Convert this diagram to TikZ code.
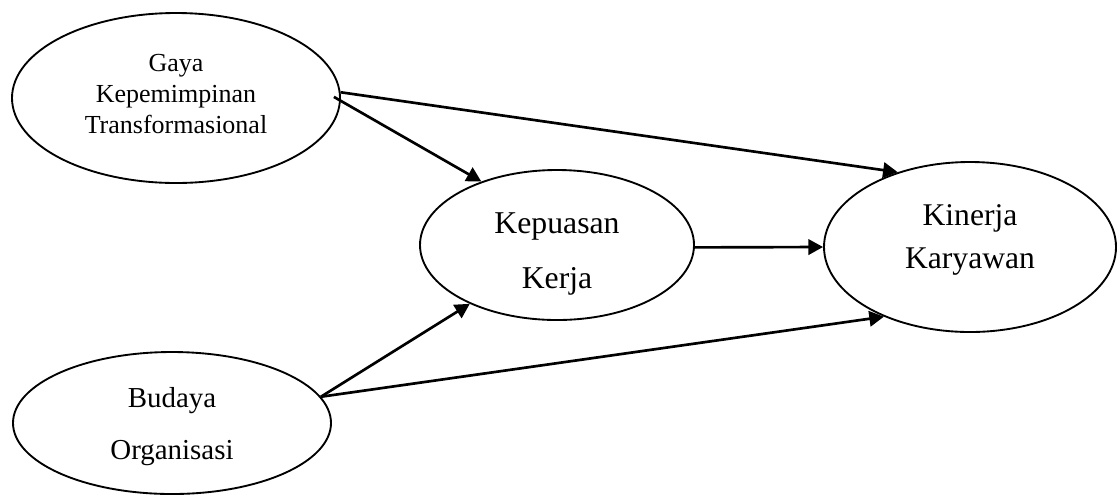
\documentclass[tikz,border=0pt]{standalone}
\usepackage{fontspec}
\setmainfont{Liberation Serif}
\usetikzlibrary{shapes.geometric,arrows.meta}
\tikzset{
	var/.style={draw, ellipse, line width=1.4pt, inner sep=0pt},
	patharr/.style={line width=2pt, -{Triangle[length=11pt,width=11.5pt]}},
}

\begin{document}
\begin{tikzpicture}[x=0.75pt,y=-0.75pt]
			%%%%% START %%%%%
			\useasboundingbox (0,0) rectangle (1119,494);
			
			\node[var, minimum width=246pt, minimum height=127.5pt] (gaya) at (176, 98) {};
			\node[var, minimum width=205.5pt, minimum height=112.5pt] (kep) at (557, 245) {};
			\node[var, minimum width=219pt, minimum height=127.5pt] (kin) at (970, 247) {};
			\node[var, minimum width=238.5pt, minimum height=106.5pt] (bud) at (172, 423) {};
			
			\node[align=center, font=\fontsize{19.5}{23.25}\selectfont] (gayatxt) at (176, 94) {Gaya\\Kepemimpinan\\Transformasional};
			\node[align=center, font=\fontsize{23.8}{41}\selectfont] (keptxt) at (557, 254) {Kepuasan\\Kerja};
			\node[align=center, font=\fontsize{23.7}{32}\selectfont] (kintxt) at (970, 240) {Kinerja\\Karyawan};
			\node[align=center, font=\fontsize{21.7}{39}\selectfont] (budtxt) at (172, 427) {Budaya\\Organisasi};
			
			\draw[patharr] (gaya.2) -- (kin.134);
			\draw[patharr, shorten <=-6pt] (gaya.-1) -- (kep.140);
			\draw[patharr] (kep.-1) -- (kin.180);
			\draw[patharr] (bud.10) -- (kep.214);
			\draw[patharr] (bud.10) -- (kin.219);
			%%%%% END %%%%%
\end{tikzpicture}
\end{document}
